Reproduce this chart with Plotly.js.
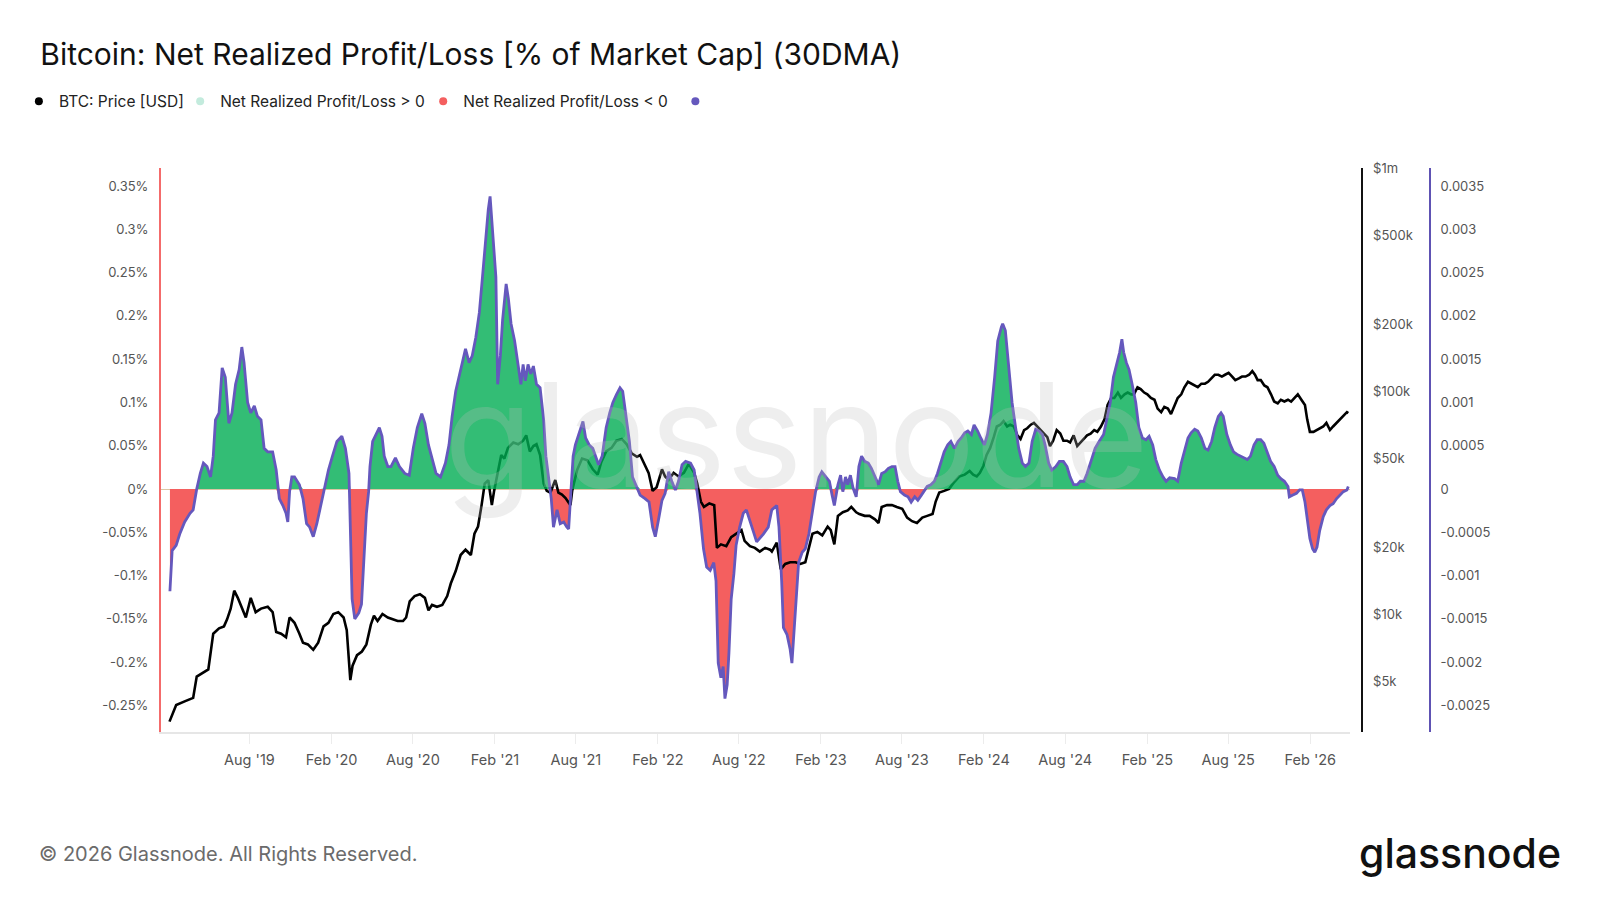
<!DOCTYPE html>
<html>
<head>
<meta charset="utf-8">
<script src="https://cdn.plot.ly/plotly-3.0.1.min.js"></script>
<style>
  html, body { margin: 0; padding: 0; background: #ffffff; }
  #chart { width: 1600px; height: 900px; }
</style>
</head>
<body>
<div id="chart"></div>
<script>
// ---------------- DATA ----------------
const nrplDates = [
"2019-02-04","2019-02-09","2019-02-18","2019-02-26","2019-03-09","2019-03-21","2019-03-28","2019-04-05","2019-04-13","2019-04-20",
"2019-04-28","2019-05-06","2019-05-12","2019-05-17","2019-05-25","2019-06-01","2019-06-08","2019-06-16","2019-06-23","2019-07-01",
"2019-07-09","2019-07-15","2019-07-20","2019-07-28","2019-08-04","2019-08-12","2019-08-19","2019-08-27","2019-09-03","2019-09-11",
"2019-09-22","2019-09-30","2019-10-07","2019-10-15","2019-10-22","2019-10-26","2019-10-30","2019-11-04","2019-11-10","2019-11-21",
"2019-11-29","2019-12-07","2019-12-14","2019-12-22","2019-12-30","2020-01-08","2020-01-17","2020-01-25","2020-02-03","2020-02-13",
"2020-02-24","2020-03-03","2020-03-11","2020-03-14","2020-03-18","2020-03-24","2020-04-02","2020-04-08","2020-04-13","2020-04-19",
"2020-04-24","2020-04-27","2020-05-03","2020-05-10","2020-05-18","2020-05-24","2020-05-29","2020-06-06","2020-06-13","2020-06-23",
"2020-07-02","2020-07-14","2020-07-24","2020-08-02","2020-08-11","2020-08-21","2020-08-28","2020-09-05","2020-09-13","2020-09-22",
"2020-10-02","2020-10-13","2020-10-21","2020-10-28","2020-11-05","2020-11-12","2020-11-20","2020-11-27","2020-12-05","2020-12-12",
"2020-12-20","2020-12-28","2021-01-04","2021-01-12","2021-01-17","2021-01-21","2021-01-25","2021-01-30","2021-02-03","2021-02-07",
"2021-02-13","2021-02-18","2021-02-26","2021-03-03","2021-03-09","2021-03-17","2021-03-24","2021-03-31","2021-04-05","2021-04-10",
"2021-04-16","2021-04-22","2021-04-28","2021-05-05","2021-05-13","2021-05-21","2021-05-26","2021-06-01","2021-06-07","2021-06-12",
"2021-06-20","2021-06-27","2021-07-05","2021-07-12","2021-07-16","2021-07-21","2021-07-26","2021-07-31","2021-08-08","2021-08-17",
"2021-08-23","2021-08-31","2021-09-08","2021-09-15","2021-09-21","2021-09-29","2021-10-08","2021-10-16","2021-10-23","2021-10-31",
"2021-11-08","2021-11-14","2021-11-21","2021-11-29","2021-12-06","2021-12-14","2021-12-23","2022-01-03","2022-01-12","2022-01-20",
"2022-01-26","2022-02-02","2022-02-10","2022-02-17","2022-02-25","2022-03-04","2022-03-12","2022-03-19","2022-03-27","2022-04-04",
"2022-04-15","2022-04-23","2022-04-29","2022-05-06","2022-05-14","2022-05-21","2022-05-29","2022-06-06","2022-06-11","2022-06-16",
"2022-06-22","2022-06-27","2022-07-01","2022-07-06","2022-07-10","2022-07-15","2022-07-21","2022-07-26","2022-08-03","2022-08-11",
"2022-08-18","2022-08-26","2022-09-02","2022-09-10","2022-09-17","2022-09-25","2022-10-06","2022-10-14","2022-10-25","2022-10-30",
"2022-11-05","2022-11-09","2022-11-17","2022-11-24","2022-11-28","2022-12-02","2022-12-07","2022-12-13","2022-12-21","2022-12-28",
"2023-01-05","2023-01-13","2023-01-20","2023-01-28","2023-02-03","2023-02-12","2023-02-20","2023-02-26","2023-03-03","2023-03-11",
"2023-03-17","2023-03-22","2023-03-28","2023-04-02","2023-04-08","2023-04-14","2023-04-21","2023-04-27","2023-05-03","2023-05-10",
"2023-05-18","2023-05-25","2023-06-02","2023-06-10","2023-06-17","2023-06-25","2023-07-02","2023-07-10","2023-07-17","2023-07-23",
"2023-07-29","2023-08-07","2023-08-15","2023-08-22","2023-08-30","2023-09-06","2023-09-14","2023-09-21","2023-09-27","2023-10-05",
"2023-10-13","2023-10-20","2023-10-28","2023-11-04","2023-11-12","2023-11-19","2023-11-27","2023-12-05","2023-12-12","2023-12-20",
"2023-12-27","2024-01-04","2024-01-10","2024-01-18","2024-01-25","2024-02-02","2024-02-09","2024-02-17","2024-02-25","2024-03-03",
"2024-03-11","2024-03-14","2024-03-20","2024-03-27","2024-04-04","2024-04-12","2024-04-19","2024-04-27","2024-05-04","2024-05-12",
"2024-05-19","2024-05-27","2024-06-04","2024-06-11","2024-06-17","2024-06-25","2024-07-02","2024-07-11","2024-07-19","2024-07-28",
"2024-08-05","2024-08-12","2024-08-20","2024-08-28","2024-09-04","2024-09-12","2024-09-19","2024-09-29","2024-10-07","2024-10-16",
"2024-10-26","2024-11-02","2024-11-10","2024-11-17","2024-11-25","2024-12-01","2024-12-06","2024-12-10","2024-12-16","2024-12-22",
"2024-12-29","2025-01-06","2025-01-13","2025-01-21","2025-01-29","2025-02-05","2025-02-13","2025-02-20","2025-02-28","2025-03-08",
"2025-03-15","2025-03-23","2025-04-03","2025-04-10","2025-04-18","2025-04-25","2025-05-03","2025-05-10","2025-05-18","2025-05-25",
"2025-06-02","2025-06-10","2025-06-17","2025-06-25","2025-07-02","2025-07-10","2025-07-16","2025-07-21","2025-07-29","2025-08-06",
"2025-08-13","2025-08-21","2025-08-28","2025-09-05","2025-09-13","2025-09-20","2025-09-28","2025-10-05","2025-10-13","2025-10-20",
"2025-10-28","2025-11-04","2025-11-12","2025-11-20","2025-11-27","2025-12-05","2025-12-13","2025-12-16","2025-12-24","2026-01-01",
"2026-01-08","2026-01-14","2026-01-20","2026-01-25","2026-01-31","2026-02-06","2026-02-11","2026-02-16","2026-02-22","2026-03-02",
"2026-03-09","2026-03-17","2026-03-24","2026-04-01","2026-04-09","2026-04-16","2026-04-24","2026-04-27"
];
// Net Realized Profit/Loss, in percent of market cap (30DMA)
const nrplPct = [
-0.118,-0.071,-0.065,-0.052,-0.038,-0.028,-0.024,0.000,0.018,0.030,
0.026,0.014,0.038,0.080,0.088,0.140,0.129,0.076,0.088,0.121,
0.138,0.164,0.146,0.100,0.088,0.096,0.084,0.080,0.047,0.043,
0.043,0.022,-0.011,-0.019,-0.028,-0.038,-0.003,0.014,0.014,0.005,
-0.011,-0.040,-0.044,-0.055,-0.040,-0.019,0.001,0.022,0.038,0.055,
0.061,0.047,0.018,-0.044,-0.127,-0.150,-0.143,-0.133,-0.085,-0.028,
-0.003,0.026,0.055,0.063,0.071,0.061,0.038,0.026,0.026,0.036,
0.026,0.018,0.016,0.047,0.071,0.087,0.076,0.051,0.034,0.018,
0.014,0.030,0.051,0.084,0.113,0.129,0.146,0.162,0.146,0.154,
0.175,0.204,0.245,0.294,0.323,0.338,0.311,0.266,0.245,0.121,
0.154,0.195,0.237,0.220,0.191,0.171,0.146,0.121,0.144,0.125,
0.144,0.133,0.142,0.121,0.117,0.080,0.038,0.014,-0.011,-0.044,
-0.024,-0.040,-0.038,-0.044,-0.046,-0.003,0.038,0.051,0.063,0.078,
0.059,0.051,0.047,0.038,0.028,0.038,0.071,0.088,0.100,0.109,
0.117,0.113,0.088,0.055,0.014,0.005,-0.007,-0.011,-0.015,-0.044,
-0.055,-0.036,-0.013,-0.005,0.020,0.009,-0.001,0.009,0.028,0.032,
0.030,0.022,-0.003,-0.028,-0.069,-0.090,-0.094,-0.085,-0.106,-0.201,
-0.218,-0.205,-0.242,-0.226,-0.189,-0.127,-0.098,-0.065,-0.044,-0.028,
-0.024,-0.038,-0.048,-0.061,-0.057,-0.052,-0.044,-0.024,-0.019,-0.044,
-0.106,-0.160,-0.168,-0.185,-0.201,-0.168,-0.127,-0.085,-0.073,-0.069,
-0.052,-0.028,-0.003,0.014,0.020,0.014,0.009,-0.007,-0.019,0.005,
0.016,-0.003,0.014,0.005,0.016,0.001,-0.009,0.026,0.038,0.032,
0.030,0.024,0.014,0.005,0.018,0.020,0.024,0.026,0.026,0.009,
-0.003,-0.007,-0.009,-0.015,-0.009,-0.013,-0.007,-0.001,0.003,0.005,
0.009,0.018,0.030,0.043,0.051,0.055,0.047,0.055,0.059,0.065,
0.067,0.063,0.074,0.067,0.059,0.051,0.063,0.088,0.129,0.171,
0.187,0.191,0.183,0.142,0.100,0.071,0.047,0.030,0.026,0.030,
0.055,0.069,0.067,0.063,0.051,0.030,0.022,0.026,0.032,0.032,
0.026,0.014,0.005,0.005,0.009,0.009,0.018,0.034,0.047,0.055,
0.063,0.080,0.100,0.129,0.146,0.158,0.173,0.158,0.146,0.138,
0.121,0.100,0.071,0.059,0.057,0.061,0.051,0.034,0.022,0.014,
0.009,0.013,0.012,0.009,0.030,0.043,0.059,0.065,0.069,0.067,
0.059,0.047,0.045,0.055,0.071,0.084,0.088,0.084,0.063,0.051,
0.043,0.040,0.038,0.036,0.034,0.038,0.051,0.057,0.057,0.053,
0.043,0.032,0.026,0.016,0.012,0.009,0.003,-0.009,-0.007,-0.005,
-0.001,-0.001,-0.015,-0.036,-0.057,-0.069,-0.073,-0.067,-0.048,-0.032,
-0.024,-0.019,-0.017,-0.011,-0.007,-0.003,-0.001,0.003
];

const priceDates = [
"2019-02-03","2019-02-18","2019-03-09","2019-03-28","2019-04-05","2019-04-20","2019-05-01","2019-05-12","2019-05-25","2019-06-05",
"2019-06-12","2019-06-20","2019-06-28","2019-07-06","2019-07-16","2019-07-24","2019-08-04","2019-08-15","2019-08-27","2019-09-11",
"2019-09-22","2019-09-30","2019-10-11","2019-10-22","2019-10-30","2019-11-10","2019-11-21","2019-11-29","2019-12-10","2019-12-22",
"2020-01-02","2020-01-14","2020-01-25","2020-02-05","2020-02-16","2020-02-28","2020-03-06","2020-03-14","2020-03-19","2020-03-29",
"2020-04-09","2020-04-19","2020-04-29","2020-05-06","2020-05-14","2020-05-25","2020-06-06","2020-06-17","2020-06-28","2020-07-10",
"2020-07-17","2020-07-25","2020-08-05","2020-08-17","2020-08-28","2020-09-05","2020-09-13","2020-09-24","2020-10-06","2020-10-17",
"2020-10-25","2020-11-05","2020-11-16","2020-11-27","2020-12-09","2020-12-17","2020-12-25","2021-01-02","2021-01-09","2021-01-17",
"2021-01-25","2021-01-30","2021-02-07","2021-02-15","2021-02-22","2021-03-02","2021-03-14","2021-03-25","2021-04-05","2021-04-12",
"2021-04-20","2021-04-28","2021-05-05","2021-05-13","2021-05-21","2021-05-28","2021-06-05","2021-06-16","2021-06-23","2021-07-01",
"2021-07-09","2021-07-20","2021-07-24","2021-08-04","2021-08-15","2021-08-27","2021-09-08","2021-09-19","2021-09-27","2021-10-08",
"2021-10-20","2021-10-31","2021-11-12","2021-11-23","2021-12-04","2021-12-16","2021-12-23","2022-01-03","2022-01-11","2022-01-20",
"2022-01-29","2022-02-10","2022-02-17","2022-02-25","2022-03-08","2022-03-19","2022-03-31","2022-04-11","2022-04-23","2022-04-30",
"2022-05-08","2022-05-15","2022-05-27","2022-06-07","2022-06-13","2022-06-22","2022-07-04","2022-07-15","2022-07-26","2022-08-07",
"2022-08-14","2022-08-26","2022-09-06","2022-09-17","2022-09-29","2022-10-10","2022-10-14","2022-10-25","2022-11-03","2022-11-13",
"2022-11-24","2022-12-06","2022-12-17","2022-12-28","2023-01-05","2023-01-13","2023-01-24","2023-02-04","2023-02-16","2023-02-23",
"2023-03-03","2023-03-11","2023-03-22","2023-04-02","2023-04-10","2023-04-21","2023-04-28","2023-05-10","2023-05-21","2023-06-02",
"2023-06-10","2023-06-17","2023-06-29","2023-07-10","2023-07-21","2023-08-02","2023-08-13","2023-08-24","2023-09-04","2023-09-16",
"2023-09-27","2023-10-09","2023-10-16","2023-10-24","2023-11-04","2023-11-15","2023-11-27","2023-12-08","2023-12-20","2023-12-31",
"2024-01-08","2024-01-16","2024-01-23","2024-01-31","2024-02-07","2024-02-15","2024-02-23","2024-03-01","2024-03-09","2024-03-16",
"2024-03-24","2024-03-31","2024-04-08","2024-04-16","2024-04-23","2024-05-01","2024-05-08","2024-05-16","2024-05-23","2024-05-31",
"2024-06-07","2024-06-15","2024-06-22","2024-06-28","2024-07-05","2024-07-13","2024-07-21","2024-07-28","2024-08-05","2024-08-12",
"2024-08-20","2024-08-28","2024-09-04","2024-09-12","2024-09-19","2024-09-27","2024-10-05","2024-10-12","2024-10-20","2024-10-28",
"2024-11-04","2024-11-12","2024-11-19","2024-11-27","2024-12-04","2024-12-12","2024-12-19","2024-12-27","2025-01-02","2025-01-10",
"2025-01-17","2025-01-25","2025-02-01","2025-02-09","2025-02-17","2025-02-24","2025-03-04","2025-03-11","2025-03-19","2025-03-26",
"2025-04-03","2025-04-10","2025-04-18","2025-04-25","2025-05-03","2025-05-10","2025-05-18","2025-05-25","2025-06-02","2025-06-10",
"2025-06-17","2025-06-25","2025-07-02","2025-07-10","2025-07-18","2025-07-25","2025-08-02","2025-08-10","2025-08-17","2025-08-25",
"2025-09-01","2025-09-09","2025-09-17","2025-09-24","2025-09-30","2025-10-06","2025-10-13","2025-10-21","2025-10-28","2025-11-05",
"2025-11-12","2025-11-20","2025-11-27","2025-12-05","2025-12-13","2025-12-20","2025-12-28","2026-01-04","2026-01-12","2026-01-20",
"2026-01-25","2026-01-31","2026-02-08","2026-02-16","2026-02-22","2026-03-02","2026-03-09","2026-03-17","2026-03-24","2026-04-01",
"2026-04-09","2026-04-16","2026-04-24","2026-04-27"
];
// BTC price in USD
const priceUsd = [
3300,3920,4070,4220,5260,5460,5660,8190,8650,8830,
9500,10600,12770,11860,10610,9680,11860,10230,10610,10810,
10230,8340,8190,7890,9680,9160,8190,7460,7330,6930,
7460,8830,9160,10040,10230,9680,8490,5070,5880,6560,
6810,7330,8990,9860,9330,10040,9680,9510,9330,9330,
9680,11430,12080,12300,11860,10420,11020,10810,11020,12080,
13750,15640,18460,19500,18460,23010,24770,30910,38600,40050,
30910,35800,43920,51880,50000,55850,59040,57970,60140,63570,
53830,56930,57970,51880,38600,35810,35170,40050,35170,34500,
33270,30900,36000,44500,50000,49100,44770,42370,48200,53830,
55850,60140,61250,57970,52840,50950,51880,46450,43160,35810,
37210,44770,41570,40090,43160,41570,43160,47320,43160,38600,
32080,30340,31480,30900,19870,20610,20230,22200,23020,23890,
21380,20230,19870,19130,19870,19500,19130,20990,15920,16830,
17140,17140,16830,17140,19870,23010,23440,22600,24770,23890,
20610,27670,28710,29260,30340,28710,28190,27670,27670,26680,
25700,30340,30910,30910,30340,29790,27170,26180,25700,27170,
27670,28190,32080,35170,35810,36560,39340,41570,42370,43950,
42370,41570,43160,46450,51880,55850,62370,69660,70970,73620,
69660,70970,69660,63570,61250,67150,68400,70970,72270,69660,
67150,64730,62370,56880,60140,67150,64730,60140,60140,59040,
63570,56880,59040,61250,63570,64730,67150,66000,69660,75000,
86930,93540,93540,98890,93540,97100,98890,97100,97100,104500,
102600,98900,97100,93540,91840,83800,80800,85300,83800,79250,
86930,93540,97100,104500,110500,108400,106400,104500,108400,108400,
110500,114600,118900,118900,116700,118900,121200,116700,112500,114600,
116700,116700,118900,123400,118900,112500,112500,106400,104500,97100,
90160,88500,91840,90160,91840,90160,93540,97100,91840,86930,
75000,65900,65900,67150,68400,69660,72270,67150,69660,72270,
75000,77800,80800,80000
];

// Tick labels
const xTickVals = ["2019-08-01","2020-02-01","2020-08-01","2021-02-01","2021-08-01","2022-02-01","2022-08-01",
                   "2023-02-01","2023-08-01","2024-02-01","2024-08-01","2025-02-01","2025-08-01","2026-02-01"];
const xTickText = ["Aug '19","Feb '20","Aug '20","Feb '21","Aug '21","Feb '22","Aug '22",
                   "Feb '23","Aug '23","Feb '24","Aug '24","Feb '25","Aug '25","Feb '26"];
const ratioTickVals = [-0.0025,-0.002,-0.0015,-0.001,-0.0005,0,0.0005,0.001,0.0015,0.002,0.0025,0.003,0.0035];
const pctTickText = ["-0.25%","-0.2%","-0.15%","-0.1%","-0.05%","0%","0.05%","0.1%","0.15%","0.2%","0.25%","0.3%","0.35%"];
const ratioTickText = ["-0.0025","-0.002","-0.0015","-0.001","-0.0005","0","0.0005","0.001","0.0015","0.002","0.0025","0.003","0.0035"];
const priceTickVals = [5000,10000,20000,50000,100000,200000,500000,1000000];
const priceTickText = ["$5k","$10k","$20k","$50k","$100k","$200k","$500k","$1m"];

const legendNames = ["BTC: Price [USD]","Net Realized Profit/Loss > 0","Net Realized Profit/Loss < 0"," "];

// ---------------- BUILD ----------------
const nrpl = nrplPct.map(v => v / 100);
const nrplPos = nrpl.map(v => (v > 0 ? v : 0));
const nrplNeg = nrpl.map(v => (v < 0 ? v : 0));

const FONT = 'Inter, "Open Sans", "Noto Sans", sans-serif';
const C = {
  green: 'rgba(0,172,82,0.80)',
  red: '#f45f5f',
  purple: '#6558bd',
  price: '#000000',
  legendGreen: '#c3ebdd'
};
const legendColors = [C.price, C.legendGreen, C.red, C.purple];
const legendIds = ['legend', 'legend2', 'legend3', 'legend4'];

const traces = [
  { x: nrplDates, y: nrplNeg, xaxis: 'x', yaxis: 'y', type: 'scatter', mode: 'lines',
    fill: 'tozeroy', fillcolor: C.red, line: { width: 0, color: C.red }, hoverinfo: 'skip', showlegend: false },
  { x: priceDates, y: priceUsd, xaxis: 'x', yaxis: 'y2', type: 'scatter', mode: 'lines',
    line: { width: 2.6, color: C.price }, hoverinfo: 'skip', showlegend: false },
  { x: nrplDates, y: nrplPos, xaxis: 'x', yaxis: 'y3', type: 'scatter', mode: 'lines',
    fill: 'tozeroy', fillcolor: C.green, line: { width: 0, color: C.green }, hoverinfo: 'skip', showlegend: false },
  { x: nrplDates, y: nrpl, xaxis: 'x', yaxis: 'y3', type: 'scatter', mode: 'lines',
    line: { width: 2.8, color: C.purple }, hoverinfo: 'skip', showlegend: false }
];
// legend entries (one legend box each so every entry sits where the reference puts it)
legendNames.forEach((nm, i) => {
  traces.push({ x: [null], y: [null], xaxis: 'x', yaxis: 'y', type: 'scatter', mode: 'markers', name: nm,
    legend: legendIds[i], marker: { size: 8, color: legendColors[i] }, hoverinfo: 'skip', showlegend: true });
});

const ratioRange = [-0.002806, 0.003708];
const tickFont = { family: FONT, size: 13, color: '#555555' };
const legendX = [0.0118, 0.1126, 0.2645, 0.4221];
function legendBox(x) {
  return { orientation: 'h', xref: 'container', yref: 'container', x: x, xanchor: 'left', y: 0.887, yanchor: 'middle',
    font: { family: FONT, size: 15.5, color: '#222222' }, bgcolor: 'rgba(0,0,0,0)', itemwidth: 30, itemclick: false };
}

const layout = {
  width: 1600, height: 900,
  margin: { l: 161, r: 170, t: 168, b: 168, pad: 0 },
  paper_bgcolor: '#ffffff', plot_bgcolor: '#ffffff',
  font: { family: FONT, color: '#222222' },
  showlegend: true,
  title: {
    text: 'Bitcoin: Net Realized Profit/Loss [% of Market Cap] (30DMA)',
    font: { family: FONT, size: 30, color: '#111111' },
    xref: 'container', yref: 'container', x: 0.0252, xanchor: 'left', y: 0.94, yanchor: 'middle'
  },
  legend: legendBox(legendX[0]),
  legend2: legendBox(legendX[1]),
  legend3: legendBox(legendX[2]),
  legend4: legendBox(legendX[3]),
  xaxis: {
    type: 'date', domain: [0, 0.937], range: ['2019-01-15', '2026-05-01'],
    tickmode: 'array', tickvals: xTickVals, ticktext: xTickText,
    showline: true, linecolor: '#e6e6e6', linewidth: 2,
    ticks: 'outside', ticklen: 10, tickcolor: '#ececec', tickwidth: 1, ticklabelstandoff: 4,
    showgrid: false, zeroline: false, tickfont: { family: FONT, size: 14.5, color: '#555555' }, anchor: 'y'
  },
  yaxis: {
    range: ratioRange, tickmode: 'array', tickvals: ratioTickVals, ticktext: pctTickText,
    side: 'left', showline: true, linecolor: '#f46b6b', linewidth: 2,
    ticks: 'outside', ticklen: 8, tickcolor: 'rgba(0,0,0,0)',
    showgrid: false, zeroline: true, zerolinecolor: '#dcc6a4', zerolinewidth: 1, tickfont: tickFont
  },
  yaxis2: {
    type: 'log', range: [3.472, 6.003], overlaying: 'y', side: 'right', anchor: 'free', position: 0.9464,
    tickmode: 'array', tickvals: priceTickVals, ticktext: priceTickText,
    showline: true, linecolor: '#111111', linewidth: 2.5,
    ticks: 'outside', ticklen: 7, tickcolor: 'rgba(0,0,0,0)',
    showgrid: false, zeroline: false, tickfont: tickFont
  },
  yaxis3: {
    range: ratioRange, overlaying: 'y', side: 'right', anchor: 'free', position: 1,
    tickmode: 'array', tickvals: ratioTickVals, ticktext: ratioTickText,
    showline: true, linecolor: '#5e52b3', linewidth: 2,
    ticks: 'outside', ticklen: 7, tickcolor: 'rgba(0,0,0,0)',
    showgrid: false, zeroline: false, tickfont: tickFont
  },
  annotations: [
    { text: 'glassnode', xref: 'paper', yref: 'paper', x: 0.5, y: 0.5266, xanchor: 'center', yanchor: 'middle',
      showarrow: false, font: { family: FONT, size: 145, color: 'rgba(190,190,190,0.26)' } },
    { text: '© 2026 Glassnode. All Rights Reserved.', xref: 'paper', yref: 'paper', x: -0.0977, y: -0.2163,
      xanchor: 'left', yanchor: 'middle', showarrow: false, font: { family: FONT, size: 20, color: '#6b6b6b' } },
    { text: 'glassnode', xref: 'paper', yref: 'paper', x: 1.1047, y: -0.214,
      xanchor: 'right', yanchor: 'middle', showarrow: false, font: { family: FONT, size: 41, color: '#111111', weight: 500 } }
  ]
};

Plotly.newPlot('chart', traces, layout, { displayModeBar: false, staticPlot: true });
</script>
</body>
</html>
